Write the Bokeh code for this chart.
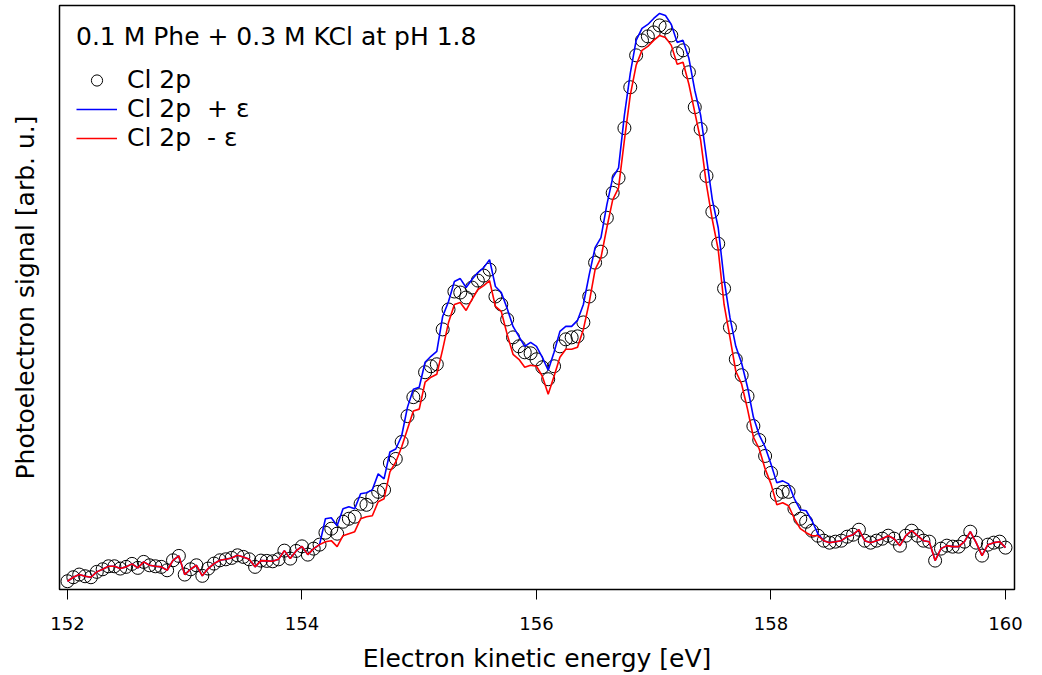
import numpy as np
from bokeh.plotting import figure
from bokeh.models import Range1d, FixedTicker, Legend, LegendItem
from bokeh.embed import file_html
from bokeh.resources import INLINE

# Electron kinetic energy grid [eV] (0.05 eV steps)
energy = np.linspace(152.0, 160.0, 161)

# Cl 2p photoelectron signal (arb. u.)
signal = [
    8.3, 12.3, 15.0, 13.3, 12.3, 17.7, 20.3, 23.3, 23.3, 21.0,
    22.7, 25.7, 21.7, 27.7, 24.3, 23.3, 22.7, 19.3, 29.3, 33.7,
    15.0, 20.3, 24.3, 13.7, 21.0, 26.0, 29.3, 30.3, 31.7, 34.3,
    32.7, 30.3, 22.7, 29.0, 28.7, 28.3, 30.3, 39.0, 31.0, 38.7,
    43.3, 35.0, 41.0, 45, 57, 61, 56, 68, 71, 73,
    86, 85, 93, 98, 100, 127, 131, 148, 174, 193,
    195, 218, 224, 226, 261, 281, 299, 298, 293, 303,
    310, 315, 321, 294, 286, 271, 253, 244, 238, 237,
    231, 223, 211, 224, 244, 251, 253, 254, 268, 294,
    328, 339, 373, 398, 413, 463, 504, 536, 551, 555,
    559, 566, 564, 556, 538, 541, 519, 484, 462, 415,
    379, 347, 302, 263, 231, 215, 194, 164, 150, 134,
    117, 95, 98, 98, 81, 71, 68, 59, 54, 49,
    47, 48, 49, 53, 55, 60, 49, 47, 49, 51,
    54, 51, 44, 54, 59, 54, 49, 48, 29, 41,
    44, 43, 43, 48, 58, 47, 34, 45, 47, 48,
    42,
]

# Cl 2p + epsilon
signal_plus = [
    8.3, 12.3, 15.0, 13.3, 12.3, 17.7, 20.3, 23.3, 23.3, 21.0,
    22.7, 25.7, 21.7, 27.7, 24.3, 23.3, 22.7, 19.3, 29.3, 33.7,
    15.0, 20.3, 24.3, 13.7, 21.0, 26.0, 29.3, 30.3, 31.7, 34.3,
    32.7, 30.3, 22.7, 29.0, 28.7, 28.3, 30.3, 39.0, 31.0, 38.7,
    43.3, 35.0, 41.0, 45, 71, 72, 64, 81, 83, 81,
    96, 97, 100, 116, 111, 138, 141, 154, 183, 201,
    203, 228, 234, 239, 274, 289, 309, 312, 303, 311,
    318, 323, 331, 304, 298, 282, 264, 254, 244, 248,
    244, 233, 220, 238, 259, 264, 264, 270, 286, 316,
    343, 353, 386, 413, 423, 476, 518, 551, 563, 567,
    573, 578, 576, 567, 549, 551, 533, 501, 476, 433,
    391, 363, 311, 273, 244, 227, 203, 173, 155, 143,
    126, 107, 109, 106, 91, 80, 79, 69, 56, 49,
    47, 48, 49, 53, 55, 60, 49, 47, 49, 51,
    54, 51, 44, 54, 59, 54, 49, 48, 29, 41,
    44, 43, 43, 48, 58, 47, 34, 45, 47, 48,
    42,
]

# Cl 2p - epsilon
signal_minus = [
    8.3, 12.3, 15.0, 13.3, 12.3, 17.7, 20.3, 23.3, 23.3, 21.0,
    22.7, 25.7, 21.7, 27.7, 24.3, 23.3, 22.7, 19.3, 29.3, 33.7,
    15.0, 20.3, 24.3, 13.7, 21.0, 26.0, 29.3, 30.3, 31.7, 34.3,
    32.7, 30.3, 22.7, 29.0, 28.7, 28.3, 30.3, 39.0, 31.0, 38.7,
    43.3, 35.0, 41.0, 45, 48, 49, 43, 54, 56, 58,
    71, 73, 74, 88, 91, 118, 128, 143, 161, 179,
    181, 208, 213, 216, 241, 268, 286, 288, 280, 291,
    301, 305, 310, 284, 279, 256, 236, 231, 223, 225,
    224, 214, 196, 214, 233, 241, 241, 243, 261, 288,
    321, 333, 363, 391, 403, 451, 496, 526, 541, 545,
    551, 556, 554, 546, 527, 529, 507, 479, 451, 406,
    371, 341, 286, 253, 219, 206, 181, 153, 141, 121,
    106, 85, 87, 84, 71, 61, 57, 54, 54, 49,
    47, 48, 49, 53, 55, 60, 49, 47, 49, 51,
    54, 51, 44, 54, 59, 54, 49, 48, 29, 41,
    44, 43, 43, 48, 58, 47, 34, 45, 47, 48,
    42,
]

tick_values = [152, 154, 156, 158, 160]
title_text = "0.1 M Phe + 0.3 M KCl at pH 1.8"
series_labels = ["Cl 2p", "Cl 2p  + ε", "Cl 2p  - ε"]
x_label = "Electron kinetic energy [eV]"
y_label = "Photoelectron signal [arb. u.]"

FONT = "DejaVu Sans"
TXT = "25px"

p = figure(
    width=1026, height=675,
    x_range=Range1d(151.932, 160.077), y_range=Range1d(0, 586),
    output_backend="svg", toolbar_location=None,
    min_border_left=59, min_border_right=12, min_border_top=5, min_border_bottom=84,
)
p.background_fill_color = "white"
p.border_fill_color = "white"
p.grid.visible = False
p.outline_line_color = "black"
p.outline_line_width = 1.5

r_c = p.scatter(energy, signal, marker="circle", size=13, fill_color=None,
                line_color="black", line_width=1)
r_b = p.line(energy, signal_plus, line_color="#0000FF", line_width=1.6)
r_r = p.line(energy, signal_minus, line_color="#FF0000", line_width=1.6)

# x axis
xa = p.xaxis[0]
xa.ticker = FixedTicker(ticks=tick_values)
xa.axis_line_color = None
xa.major_tick_in = 0
xa.major_tick_out = 10
xa.major_tick_line_color = "black"
xa.minor_tick_line_color = None
xa.major_label_standoff = 17
xa.major_label_text_font = FONT
xa.major_label_text_font_size = "18px"
xa.major_label_text_line_height = 1.0
xa.major_label_text_color = "black"
xa.axis_label = x_label
xa.axis_label_text_font = FONT
xa.axis_label_text_font_size = TXT
xa.axis_label_text_line_height = 1.0
xa.axis_label_text_font_style = "normal"
xa.axis_label_text_color = "black"
xa.axis_label_standoff = 11

# y axis (label only)
ya = p.yaxis[0]
ya.ticker = FixedTicker(ticks=[])
ya.axis_line_color = None
ya.major_tick_in = 0
ya.major_tick_out = 0
ya.minor_tick_line_color = None
ya.major_label_standoff = 0
ya.axis_label = y_label
ya.axis_label_text_font = FONT
ya.axis_label_text_font_size = TXT
ya.axis_label_text_font_style = "normal"
ya.axis_label_text_color = "black"
ya.axis_label_standoff = 20

legend = Legend(
    items=[
        LegendItem(label=series_labels[0], renderers=[r_c]),
        LegendItem(label=series_labels[1], renderers=[r_b]),
        LegendItem(label=series_labels[2], renderers=[r_r]),
    ],
    location="top_left",
    title=title_text,
    title_text_font=FONT,
    title_text_font_size=TXT,
    title_text_font_style="normal",
    title_text_color="black",
    title_standoff=14,
    label_text_font=FONT,
    label_text_font_size=TXT,
    label_text_color="black",
    glyph_width=41,
    glyph_height=28,
    label_height=28,
    label_standoff=10,
    spacing=0,
    padding=0,
    margin=17,
    border_line_color=None,
    background_fill_alpha=0,
)
p.add_layout(legend)

open("out.html", "w").write(file_html(p, INLINE))
